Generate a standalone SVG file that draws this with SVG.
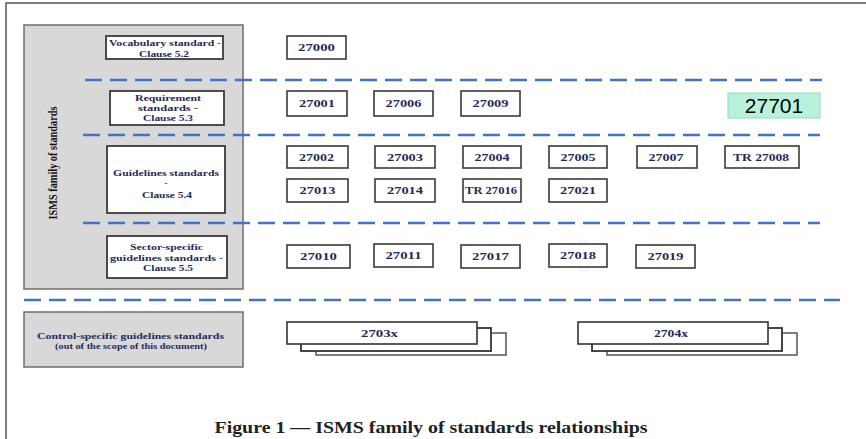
<svg xmlns="http://www.w3.org/2000/svg" width="866" height="439" viewBox="0 0 866 439">
<style>
.lbl{font-family:"Liberation Serif","DejaVu Serif",serif;font-weight:bold;font-size:9px;fill:#1f2a5a;text-anchor:middle}
.num{font-family:"Liberation Serif","DejaVu Serif",serif;font-weight:bold;font-size:10.5px;fill:#1f2a5a;text-anchor:middle}
.nb{fill:#fff;stroke:#3a3a3a;stroke-width:1.6}
.gb{fill:#fff;stroke:#3a3a3a;stroke-width:1.8}
.gray{fill:#d8d8d8;stroke:#6e6e6e;stroke-width:1.5}
.dash{stroke:#4472c4;stroke-width:2.5;stroke-dasharray:17 8;fill:none}
</style>
<rect x="0" y="0" width="866" height="439" fill="#fff"/>
<path d="M6,439 V3 H866" fill="none" stroke="#555" stroke-width="1.5"/>
<g id="isms-family">
<rect class="gray" x="24" y="25" width="219" height="264"/>
<text transform="translate(57,163) rotate(-90)" textLength="113" lengthAdjust="spacingAndGlyphs" style="font-family:'Liberation Serif','DejaVu Serif',serif;font-weight:bold;font-size:13px;fill:#111;text-anchor:middle">ISMS family of standards</text>
</g>
<g id="connectors">
<line class="dash" x1="85" y1="80" x2="822" y2="80"/>
<line class="dash" x1="83" y1="135" x2="820" y2="135"/>
<line class="dash" x1="83" y1="223" x2="820" y2="223"/>
<line class="dash" x1="24" y1="300" x2="840" y2="300"/>
</g>
<g id="vocabulary">
<rect class="gb" x="106" y="36" width="117" height="23"/>
<text class="lbl" x="165" y="46" textLength="112" lengthAdjust="spacingAndGlyphs">Vocabulary standard -</text>
<text class="lbl" x="164" y="57" textLength="50" lengthAdjust="spacingAndGlyphs">Clause 5.2</text>
</g>
<g id="requirement">
<rect class="gb" x="110" y="91" width="114" height="34"/>
<text class="lbl" x="168" y="101" textLength="66" lengthAdjust="spacingAndGlyphs">Requirement</text>
<text class="lbl" x="168" y="111" textLength="60" lengthAdjust="spacingAndGlyphs">standards -</text>
<text class="lbl" x="168" y="121" textLength="50" lengthAdjust="spacingAndGlyphs">Clause 5.3</text>
</g>
<g id="guidelines">
<rect class="gb" x="107" y="146" width="118" height="67"/>
<text class="lbl" x="166" y="176" textLength="106" lengthAdjust="spacingAndGlyphs">Guidelines standards</text>
<text class="lbl" x="166" y="186">-</text>
<text class="lbl" x="167" y="198" textLength="50" lengthAdjust="spacingAndGlyphs">Clause 5.4</text>
</g>
<g id="sector">
<rect class="gb" x="107" y="236" width="120" height="42"/>
<text class="lbl" x="166.5" y="250" textLength="73" lengthAdjust="spacingAndGlyphs">Sector-specific</text>
<text class="lbl" x="166.5" y="261" textLength="113" lengthAdjust="spacingAndGlyphs">guidelines standards -</text>
<text class="lbl" x="168" y="271" textLength="50" lengthAdjust="spacingAndGlyphs">Clause 5.5</text>
</g>
<g id="control">
<rect class="gray" x="24" y="312" width="219" height="55"/>
<text class="lbl" x="130.5" y="339" textLength="187" lengthAdjust="spacingAndGlyphs">Control-specific guidelines standards</text>
<text class="lbl" x="131" y="348.5" textLength="152" lengthAdjust="spacingAndGlyphs">(out of the scope of this document)</text>
</g>
<g id="n27000"><rect class="nb" x="287" y="36" width="59" height="23"/><text class="num" x="316.5" y="51" textLength="37" lengthAdjust="spacingAndGlyphs">27000</text></g>
<g id="n27001"><rect class="nb" x="287" y="91" width="60" height="25"/><text class="num" x="317" y="107" textLength="36" lengthAdjust="spacingAndGlyphs">27001</text></g>
<g id="n27006"><rect class="nb" x="374" y="91" width="59" height="25"/><text class="num" x="403.5" y="107" textLength="36" lengthAdjust="spacingAndGlyphs">27006</text></g>
<g id="n27009"><rect class="nb" x="461" y="91" width="59" height="25"/><text class="num" x="490.5" y="107" textLength="36" lengthAdjust="spacingAndGlyphs">27009</text></g>
<g id="n27701"><rect x="728" y="93" width="92" height="25" fill="#b8f2da" stroke="#93d9b8" stroke-width="1"/><text x="774" y="113" style="font-family:'Liberation Sans',Arial,sans-serif;font-size:21px;fill:#000;text-anchor:middle">27701</text></g>
<g id="n27002"><rect class="nb" x="287" y="146" width="61" height="22"/><text class="num" x="316.5" y="161" textLength="35" lengthAdjust="spacingAndGlyphs">27002</text></g>
<g id="n27003"><rect class="nb" x="375" y="146" width="60" height="22"/><text class="num" x="405" y="161" textLength="36" lengthAdjust="spacingAndGlyphs">27003</text></g>
<g id="n27004"><rect class="nb" x="463" y="146" width="58" height="22"/><text class="num" x="492" y="161" textLength="35" lengthAdjust="spacingAndGlyphs">27004</text></g>
<g id="n27005"><rect class="nb" x="549" y="146" width="58" height="22"/><text class="num" x="578" y="161" textLength="35" lengthAdjust="spacingAndGlyphs">27005</text></g>
<g id="n27007"><rect class="nb" x="637" y="146" width="60" height="22"/><text class="num" x="666" y="161" textLength="35" lengthAdjust="spacingAndGlyphs">27007</text></g>
<g id="nTR27008"><rect class="nb" x="725" y="146" width="74" height="22"/><text class="num" x="761" y="161" textLength="56" lengthAdjust="spacingAndGlyphs">TR 27008</text></g>
<g id="n27013"><rect class="nb" x="287" y="179" width="61" height="23"/><text class="num" x="317.5" y="194" textLength="36" lengthAdjust="spacingAndGlyphs">27013</text></g>
<g id="n27014"><rect class="nb" x="375" y="179" width="60" height="23"/><text class="num" x="405" y="194" textLength="36" lengthAdjust="spacingAndGlyphs">27014</text></g>
<g id="nTR27016"><rect class="nb" x="463" y="179" width="58" height="23"/><text class="num" x="491" y="194" textLength="52" lengthAdjust="spacingAndGlyphs">TR 27016</text></g>
<g id="n27021"><rect class="nb" x="549" y="179" width="58" height="23"/><text class="num" x="578" y="194" textLength="36" lengthAdjust="spacingAndGlyphs">27021</text></g>
<g id="n27010"><rect class="nb" x="287" y="245" width="63" height="23"/><text class="num" x="318.5" y="260" textLength="37" lengthAdjust="spacingAndGlyphs">27010</text></g>
<g id="n27011"><rect class="nb" x="374" y="244" width="59" height="23"/><text class="num" x="403.5" y="259" textLength="36" lengthAdjust="spacingAndGlyphs">27011</text></g>
<g id="n27017"><rect class="nb" x="461" y="245" width="59" height="23"/><text class="num" x="490.5" y="260" textLength="37" lengthAdjust="spacingAndGlyphs">27017</text></g>
<g id="n27018"><rect class="nb" x="549" y="244" width="58" height="23"/><text class="num" x="578" y="259" textLength="36" lengthAdjust="spacingAndGlyphs">27018</text></g>
<g id="n27019"><rect class="nb" x="636" y="245" width="59" height="23"/><text class="num" x="665.5" y="260" textLength="36" lengthAdjust="spacingAndGlyphs">27019</text></g>
<g id="n2703x">
<rect x="316" y="333" width="190" height="22" fill="#fff" stroke="#555" stroke-width="1.5"/>
<rect x="301" y="328" width="190" height="23" fill="#fff" stroke="#333" stroke-width="1.8"/>
<rect x="287" y="322" width="190" height="22" fill="#fff" stroke="#333" stroke-width="1.6"/>
<text class="num" x="379.5" y="337" textLength="37" lengthAdjust="spacingAndGlyphs">2703x</text>
</g>
<g id="n2704x">
<rect x="607" y="333" width="190" height="22" fill="#fff" stroke="#555" stroke-width="1.5"/>
<rect x="592" y="328" width="190" height="23" fill="#fff" stroke="#333" stroke-width="1.8"/>
<rect x="578" y="322" width="190" height="22" fill="#fff" stroke="#333" stroke-width="1.6"/>
<text class="num" x="671" y="337" textLength="34" lengthAdjust="spacingAndGlyphs">2704x</text>
</g>
<text x="431" y="433" textLength="433" lengthAdjust="spacingAndGlyphs" style="font-family:'Liberation Serif','DejaVu Serif',serif;font-weight:bold;font-size:17px;fill:#222;text-anchor:middle">Figure 1 — ISMS family of standards relationships</text>
</svg>
